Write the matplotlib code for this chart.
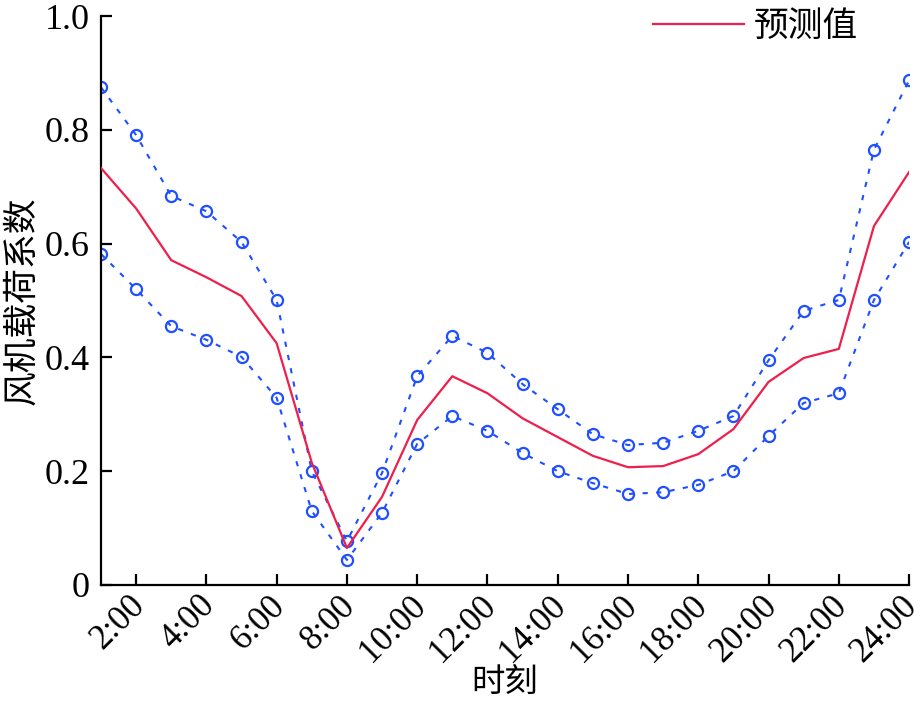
import matplotlib
matplotlib.use("Agg")
import matplotlib.pyplot as plt
import matplotlib.transforms as mtransforms

hours = list(range(1, 25))
pred = [0.733, 0.662, 0.571, 0.541, 0.508, 0.425, 0.215, 0.065, 0.155, 0.290,
        0.367, 0.337, 0.293, 0.260, 0.227, 0.207, 0.209, 0.230, 0.274, 0.357,
        0.399, 0.415, 0.631, 0.726]
upper = [0.875, 0.791, 0.684, 0.657, 0.603, 0.501, 0.200, 0.077, 0.197, 0.367,
         0.438, 0.408, 0.353, 0.309, 0.265, 0.246, 0.250, 0.271, 0.297, 0.395,
         0.482, 0.501, 0.765, 0.887]
lower = [0.582, 0.520, 0.455, 0.431, 0.401, 0.329, 0.130, 0.044, 0.127, 0.248,
         0.297, 0.271, 0.232, 0.200, 0.179, 0.160, 0.163, 0.176, 0.200, 0.262,
         0.320, 0.337, 0.501, 0.603]
xtick_pos = list(range(2, 25, 2))
xtick_labels = [f"{h}:00" for h in xtick_pos]
ytick_pos = [0, 0.2, 0.4, 0.6, 0.8, 1.0]
ytick_labels = ["0", "0.2", "0.4", "0.6", "0.8", "1.0"]

fam = ['Liberation Serif', 'Noto Sans CJK SC']
plt.rcParams['font.family'] = fam

fig = plt.figure(figsize=(9.22, 7.02), dpi=100)
ax = fig.add_axes([0.1095, 0.1667, 0.8765, 0.8103])

red = '#ee1f4b'
blue = '#1f4fff'
ax.plot(hours, pred, color=red, lw=1.6, label='预测值', zorder=3)
ax.plot(hours, upper, color=blue, lw=1.5, ls=(0, (2.5, 4)), marker='o',
        markersize=8, markerfacecolor='none', markeredgewidth=1.6)
ax.plot(hours, lower, color=blue, lw=1.5, ls=(0, (2.5, 4)), marker='o',
        markersize=8, markerfacecolor='none', markeredgewidth=1.6)

ax.set_xlim(1, 24)
ax.set_ylim(0, 1.0)
ax.spines['top'].set_visible(False)
ax.spines['right'].set_visible(False)
for s in ['left', 'bottom']:
    ax.spines[s].set_linewidth(1.6)
ax.set_xticks(xtick_pos)
ax.set_xticklabels(xtick_labels, rotation=45, ha='right', rotation_mode='anchor')
ax.set_yticks(ytick_pos)
ax.set_yticklabels(ytick_labels)
ax.tick_params(direction='in', length=8, width=1.6, labelsize=26, pad=8)
ax.tick_params(axis='x', pad=3, labelsize=25)
offset = mtransforms.ScaledTranslation(-8 / 100, 0, fig.dpi_scale_trans)
for lab in ax.get_xticklabels():
    lab.set_transform(lab.get_transform() + offset)
for lab in ax.get_xticklabels() + ax.get_yticklabels():
    lab.set_family('Liberation Serif')

ax.set_xlabel('时刻', fontsize=24, family=fam, labelpad=0)
ax.set_ylabel('风机载荷系数', fontsize=25, family=fam, labelpad=4)

leg = ax.legend(loc='upper right', frameon=False,
                handlelength=2.6, handletextpad=0.3, borderaxespad=0, borderpad=0,
                bbox_to_anchor=(0.937, 1.009), prop={'family': fam, 'size': 25})

fig.savefig('out.png', dpi=100)
